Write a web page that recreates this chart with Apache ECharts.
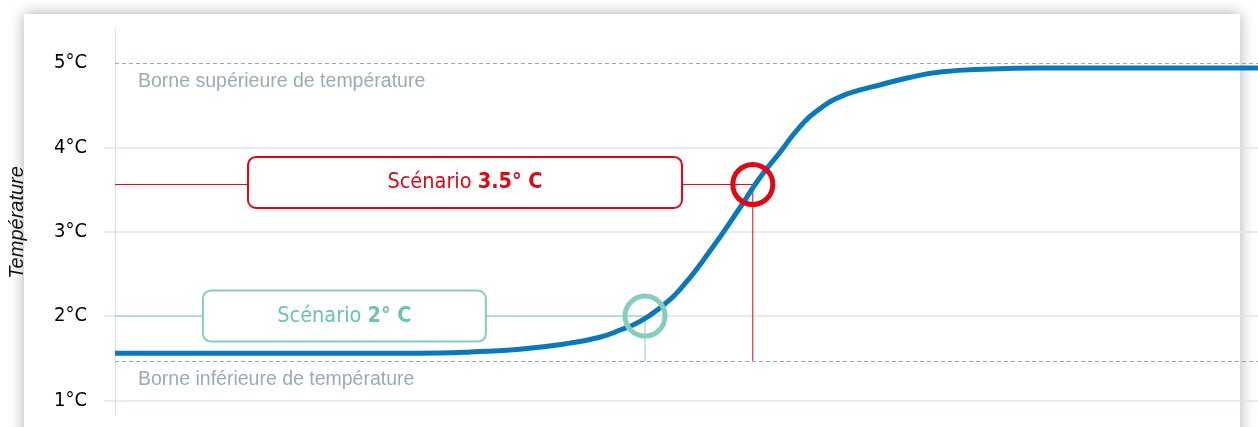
<!DOCTYPE html>
<html><head><meta charset="utf-8">
<script src="https://cdn.jsdelivr.net/npm/echarts@6/dist/echarts.min.js"></script>
<style>
html,body{margin:0;padding:0;background:#fff;overflow:hidden;width:1258px;height:427px}
#card{position:absolute;left:24px;right:18px;top:14px;height:500px;background:#fff;box-shadow:0 0 14px rgba(0,0,0,0.32)}
#chart{position:absolute;left:0;top:0;width:1258px;height:427px}
</style></head><body><div id="card"></div><div id="chart"></div>
<script>
// ---- data ----
const timeX = [0, 10, 20, 25, 28.4, 31.1, 35.4, 39.8, 42.4, 44.2, 45.9, 47.7, 49.4, 52.1, 54.7, 56.4, 58.2, 59.9, 61.7, 63.4, 65.2, 66.9, 69.3, 72.2, 76.6, 80.9, 90, 100];
const temperature = [1.56, 1.56, 1.56, 1.56, 1.563, 1.575, 1.607, 1.68, 1.75, 1.835, 1.935, 2.10, 2.31, 2.78, 3.29, 3.637, 3.945, 4.24, 4.46, 4.597, 4.68, 4.739, 4.822, 4.893, 4.929, 4.941, 4.941, 4.941];
const yLabelValues = [1, 2, 3, 4, 5];
const yGridValues = [1, 2, 3, 4];
const boundValues = [5, 1.47];
const boundLabels = ['Borne supérieure de température', 'Borne inférieure de température'];
const scenarioNames = ['2° C', '3.5° C'];
const scenarioTemps = [2.0, 3.56];
const scenarioTimes = [46.37, 55.8];
const scenarioBoxTimes = [20.07, 30.62];
const scenarioBoxWidths = [281, 432];
const scenarioBoxOffsets = [0, -2];

const NARROW = '"DejaVu Sans Condensed", "DejaVu Sans", sans-serif';
const REG = '"Liberation Sans", Arial, sans-serif';
const scenarioColors = ['#84cebd', '#e30613'];
const scenarioText = ['#6cc4b0', '#e30613'];
const BLUE = '#0a78bd';

// guide lines: from the axis to the crossing, then down to the lower bound
const scenarioLineSeries = scenarioTemps.map((v, i) => ({
  type: 'line', silent: true, showSymbol: false, symbol: 'none', z: 1,
  lineStyle: {type: 'solid', width: 1, color: scenarioColors[i], opacity: 1},
  itemStyle: {color: scenarioColors[i]},
  emphasis: {disabled: true},
  data: [[0, v], [scenarioTimes[i], v], [scenarioTimes[i], boundValues[1]]]
}));

const boundLines = boundValues.map((v, i) => ({
  yAxis: v,
  label: {show: true, formatter: boundLabels[i]}
}));

const chart = echarts.init(document.getElementById('chart'), null, {renderer: 'canvas'});
chart.setOption({
  backgroundColor: 'transparent',
  animation: false,
  grid: {left: 115, right: 0, top: 29.2, bottom: 11.3, outerBoundsMode: 'none', containLabel: false},
  xAxis: {type: 'value', min: 0, max: 100, show: false},
  yAxis: {
    type: 'value', min: 0.82, max: 5.4,
    name: 'Température', nameLocation: 'middle', nameRotate: 90, nameGap: 88,
    nameTextStyle: {fontFamily: REG, fontStyle: 'italic', fontSize: 20, color: '#111'},
    axisLine: {show: true, lineStyle: {color: '#d8e0e8', width: 1}},
    axisTick: {show: true, length: 11, customValues: yGridValues, lineStyle: {color: '#dfe5ec', width: 1.5}},
    axisLabel: {customValues: yLabelValues, formatter: '{value}°C', margin: 28, fontFamily: NARROW, fontSize: 20, color: '#000'},
    splitLine: {show: true, lineStyle: {color: '#dfe5ec', width: 1.5}}
  },
  series: scenarioLineSeries.concat([
    {
      type: 'line', data: [], silent: true,
      markLine: {
        silent: true, symbol: 'none', animation: false,
        lineStyle: {type: [4, 3], width: 1, color: '#9aa8b3'},
        label: {position: 'insideStartBottom', distance: [23, 9], fontFamily: REG, fontSize: 19.5, color: '#9aabb8'},
        data: boundLines
      }
    },
    {
      type: 'line', silent: true, showSymbol: false, smooth: 0.5, z: 3,
      lineStyle: {color: BLUE, width: 5},
      data: timeX.map((x, i) => [x, temperature[i]])
    },
    {
      type: 'scatter', silent: true, symbol: 'circle', symbolSize: 40, z: 4,
      data: scenarioTimes.map((t, i) => ({
        value: [t, scenarioTemps[i]],
        itemStyle: {color: 'rgba(255,255,255,0)', borderColor: scenarioColors[i], borderWidth: 5, opacity: 1}
      }))
    },
    {
      type: 'scatter', silent: true, symbolSize: 0, z: 4,
      itemStyle: {opacity: 1},
      data: scenarioBoxTimes.map((t, i) => ({
        value: [t, scenarioTemps[i]],
        itemStyle: {opacity: 1},
        label: {
          show: true, position: 'inside', offset: [0, scenarioBoxOffsets[i]],
          formatter: '{a|Scénario }{b|' + scenarioNames[i] + '}',
          backgroundColor: '#fff', borderColor: scenarioColors[i], borderWidth: 2, borderRadius: 7,
          width: scenarioBoxWidths[i], height: 49, padding: 0, align: 'center', verticalAlign: 'middle',
          rich: {
            a: {fontFamily: NARROW, fontSize: 21.5, color: scenarioText[i], lineHeight: 49},
            b: {fontFamily: NARROW, fontSize: 21.5, fontWeight: 'bold', color: scenarioText[i], lineHeight: 49}
          }
        }
      }))
    }
  ])
});
</script></body></html>
